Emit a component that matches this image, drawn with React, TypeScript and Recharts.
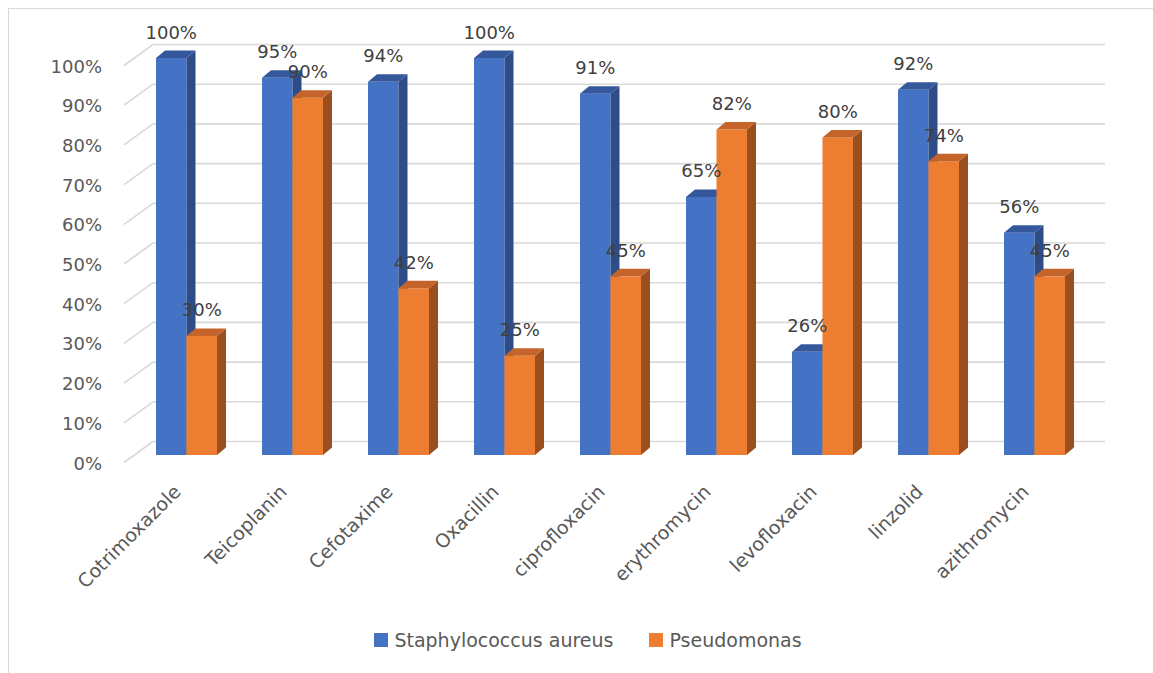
import React from 'react';
import { BarChart, Bar, XAxis, YAxis, CartesianGrid, LabelList, Legend } from 'recharts';

const categories = ['Cotrimoxazole', 'Teicoplanin', 'Cefotaxime', 'Oxacillin', 'ciprofloxacin', 'erythromycin', 'levofloxacin', 'linzolid', 'azithromycin'];
const staphylococcus = [100, 95, 94, 100, 91, 65, 26, 92, 56];
const pseudomonas = [30, 90, 42, 25, 45, 82, 80, 74, 45];
const yTicks = [0, 10, 20, 30, 40, 50, 60, 70, 80, 90, 100];
const seriesNames = ['Staphylococcus aureus', 'Pseudomonas'];

const data = categories.map((name, i) => ({ name, staph: staphylococcus[i], pseudo: pseudomonas[i] }));

const FONT = '"DejaVu Sans", sans-serif';
const DX = 9;
const DY = 7.5;

const BLUE = { front: '#4472C4', side: '#2E4C87', top: '#35589C' };
const ORANGE = { front: '#ED7D31', side: '#9C4F1E', top: '#C4642A' };

function make3DBar(c: { front: string; side: string; top: string }) {
  return (props: any) => {
    const { x, y, width, height } = props;
    if (x == null || width == null) return <g />;
    const r = x + width;
    const b = y + height;
    return (
      <g>
        <rect x={x} y={y} width={width} height={height} fill={c.front} />
        <polygon points={`${r},${y} ${r + DX},${y - DY} ${r + DX},${b - DY} ${r},${b}`} fill={c.side} />
        <polygon points={`${x},${y} ${x + DX},${y - DY} ${r + DX},${y - DY} ${r},${y}`} fill={c.top} />
      </g>
    );
  };
}

const renderValueLabel = (props: any) => {
  const { x, y, width, value } = props;
  return (
    <text
      x={x + width / 2}
      y={y - 26}
      textAnchor="middle"
      dominantBaseline="central"
      fill="#404040"
      fontSize={18}
      fontFamily={FONT}
    >
      {`${value}%`}
    </text>
  );
};

const gridLine = (p: any) => {
  const { x1, x2, y1 } = p;
  return (
    <g key={p.key}>
      <line x1={x1 - 9} y1={y1 + 7.5} x2={x1 + 20} y2={y1 - 13.5} stroke="#d9d9d9" strokeWidth={1.6} />
      <line x1={x1 + 20} y1={y1 - 13.5} x2={x2 + 18} y2={y1 - 13.5} stroke="#d9d9d9" strokeWidth={1.6} />
    </g>
  );
};

const YTick = (props: any) => {
  const { x, y, payload } = props;
  return (
    <text x={x - 31} y={y + 8} textAnchor="end" dominantBaseline="central" fill="#595959" fontSize={18} fontFamily={FONT}>
      {`${payload.value}%`}
    </text>
  );
};

const XTick = (props: any) => {
  const { x, y, payload } = props;
  const ax = x - 4;
  const ay = y + 38;
  return (
    <text x={ax} y={ay} textAnchor="end" transform={`rotate(-45, ${ax}, ${ay})`} fill="#595959" fontSize={19} fontFamily={FONT}>
      {payload.value}
    </text>
  );
};

const LegendContent = () => {
  const colors = [BLUE.front, ORANGE.front];
  return (
    <div style={{ display: 'flex', justifyContent: 'center', alignItems: 'center', fontFamily: FONT, fontSize: 19, color: '#595959', paddingLeft: 10 }}>
      {seriesNames.map((n, i) => (
        <div key={n} style={{ display: 'flex', alignItems: 'center', marginRight: i === 0 ? 36 : 0 }}>
          <div style={{ width: 14, height: 14, background: colors[i], marginRight: 6 }} />
          <span>{n}</span>
        </div>
      ))}
    </div>
  );
};

export default function App() {
  return (
    <div style={{ position: 'fixed', left: 8, top: 8, width: 1145, height: 665, overflow: 'hidden' }}>
      <div style={{ width: 1148, height: 668, border: '1px solid #d9d9d9', background: '#fff' }}>
        <BarChart width={1148} height={668} data={data} margin={{ top: 49, right: 70, left: 0, bottom: 0 }} barGap={0} barSize={30.5}>
          <CartesianGrid vertical={false} horizontal={gridLine} />
          <XAxis dataKey="name" height={222} axisLine={false} tickLine={false} tickSize={0} tickMargin={0} tick={<XTick />} interval={0} />
          <YAxis domain={[0, 100]} ticks={yTicks} width={124} axisLine={false} tickLine={false} tickSize={0} tickMargin={0} tick={<YTick />} />
          <Legend layout="horizontal" verticalAlign="middle" align="center" wrapperStyle={{ top: 620, left: 0, width: 1148 }} content={<LegendContent />} />
          <Bar dataKey="staph" name={seriesNames[0]} fill={BLUE.front} shape={make3DBar(BLUE)} isAnimationActive={false}>
            <LabelList dataKey="staph" content={renderValueLabel} />
          </Bar>
          <Bar dataKey="pseudo" name={seriesNames[1]} fill={ORANGE.front} shape={make3DBar(ORANGE)} isAnimationActive={false}>
            <LabelList dataKey="pseudo" content={renderValueLabel} />
          </Bar>
        </BarChart>
      </div>
    </div>
  );
}
